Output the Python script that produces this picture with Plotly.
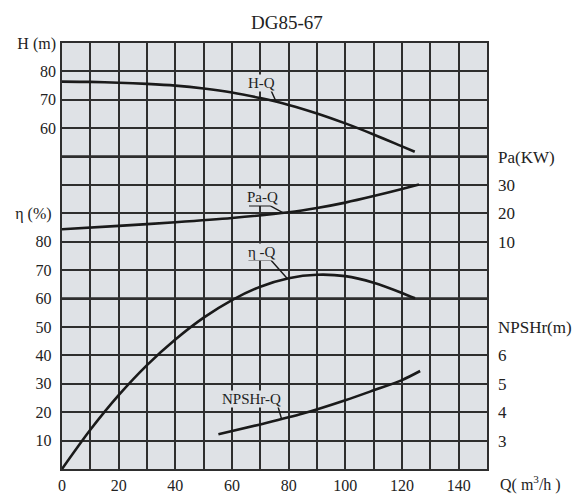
import numpy as np
import plotly.graph_objects as go

# ---------------- data ----------------
q_h = [0, 10, 20, 30, 40, 50, 60, 70, 80, 90, 100, 110, 120, 124.5]
head = [76.4, 76.3, 76.0, 75.6, 75.0, 74.0, 72.6, 70.6, 68.2, 65.2, 61.7, 57.8, 53.6, 51.7]

q_pa = [0, 20, 40, 60, 80, 90, 100, 110, 120, 126]
power = [14.4, 15.6, 16.9, 18.4, 20.4, 21.9, 23.8, 26.1, 28.6, 30.2]

q_eta = [0, 10, 20, 30, 40, 50, 60, 70, 80, 90, 100, 110, 120, 124.6]
eff = [0, 13.8, 26.0, 36.6, 45.6, 53.3, 59.5, 64.2, 67.2, 68.4, 67.9, 65.6, 62.0, 60.1]

q_npsh = [55.2, 70, 85, 100, 110, 120, 126.4]
npsh = [3.22, 3.57, 3.95, 4.42, 4.77, 5.13, 5.45]

x_ticks = [0, 20, 40, 60, 80, 100, 120, 140]
eta_ticks = [10, 20, 30, 40, 50, 60, 70, 80]
h_ticks = [60, 70, 80]
pa_ticks = [10, 20, 30]
npsh_ticks = [3, 4, 5, 6]

title = "DG85-67"

# ---------------- styling ----------------
FONT = "'Liberation Serif', 'Times New Roman', Times, serif"
TXT = "#222222"
BG = "#dfe2e6"
GRID = "#2e2e2e"
CURVE = "#1a1a1a"

fig = go.Figure()
for xs, ys, ya in ((q_h, head, "y2"), (q_pa, power, "y3"), (q_eta, eff, "y"), (q_npsh, npsh, "y4")):
    fig.add_trace(go.Scatter(x=xs, y=ys, yaxis=ya, mode="lines",
                             line=dict(color=CURVE, width=2.6, shape="spline", smoothing=0.8),
                             showlegend=False, hoverinfo="skip"))

grid_vals = list(range(0, 151, 10))
x_text = [str(v) if v in x_ticks else "" for v in grid_vals]
eta_text = [str(v) if v in eta_ticks else ("η (%)" if v == 90 else "") for v in grid_vals]

tickfont = dict(family=FONT, size=16, color=TXT)
tickfont_r = dict(family=FONT, size=17, color=TXT)

fig.update_layout(
    width=574, height=495,
    margin=dict(l=62, r=87, t=43, b=26, autoexpand=False),
    paper_bgcolor="white", plot_bgcolor=BG,
    xaxis=dict(range=[0, 150], tickmode="array", tickvals=grid_vals, ticktext=x_text,
               showgrid=True, gridcolor=GRID, gridwidth=1.6, zeroline=False,
               showline=True, linecolor=GRID, linewidth=2.4, mirror=True, automargin=False,
               ticks="", ticklabelstandoff=1, tickfont=tickfont, fixedrange=True),
    yaxis=dict(range=[0, 150], tickmode="array", tickvals=grid_vals, ticktext=eta_text,
               showgrid=True, gridcolor=GRID, gridwidth=1.6, zeroline=False,
               showline=True, linecolor=GRID, linewidth=2.4, mirror=True, automargin=False,
               ticks="", ticklabelstandoff=5, tickfont=tickfont, fixedrange=True),
    yaxis2=dict(range=[-60, 90], overlaying="y", side="left", anchor="x",
                tickmode="array", tickvals=h_ticks + [90],
                ticktext=[str(v) for v in h_ticks] + ["H (m)"], automargin=False,
                showgrid=False, zeroline=False, ticks="", ticklabelstandoff=5,
                tickfont=tickfont, fixedrange=True),
    yaxis3=dict(range=[-70, 80], overlaying="y", side="right", anchor="x",
                tickmode="array", tickvals=pa_ticks + [40],
                ticktext=[str(v) for v in pa_ticks] + ["Pa(KW)"], automargin=False,
                showgrid=False, zeroline=False, ticks="", ticklabelstandoff=10,
                tickfont=tickfont_r, fixedrange=True),
    yaxis4=dict(range=[2, 17], overlaying="y", side="right", anchor="x",
                tickmode="array", tickvals=npsh_ticks + [7],
                ticktext=[str(v) for v in npsh_ticks] + ["NPSHr(m)"], automargin=False,
                showgrid=False, zeroline=False, ticks="", ticklabelstandoff=10,
                tickfont=tickfont_r, fixedrange=True),
)

# thicker section dividers
for yv in (60, 110):
    fig.add_shape(type="line", xref="x domain", yref="y", x0=0, x1=1, y0=yv, y1=yv,
                  line=dict(color=GRID, width=2.8), layer="below")

# curve labels with underline + leader
labels = [
    # text, series x, series y, axis, text x, text y, underline x0, x1, underline y, attach x
    ("H-Q", q_h, head, "y2", 70.3, 75.9, 66.1, 73.7, 73.5, 75.6),
    ("Pa-Q", q_pa, power, "y3", 70.7, 25.7, 66.0, 73.4, 22.7, 78.1),
    ("η -Q", q_eta, eff, "y", 70.5, 76.5, 65.8, 73.7, 73.6, 79.5),
    ("NPSHr-Q", q_npsh, npsh, "y4", 67.0, 4.47, 62.8, 76.0, 4.28, 77.5),
]
for text, xs, ys, yref, tx, ty, u0, u1, uy, ax in labels:
    ay = float(np.interp(ax, xs, ys))
    fig.add_annotation(x=tx, y=ty, xref="x", yref=yref, text=text, showarrow=False,
                       font=dict(family=FONT, size=15, color=TXT), bgcolor=BG,
                       borderpad=0, xanchor="center", yanchor="middle")
    fig.add_shape(type="path", xref="x", yref=yref,
                  path=f"M {u0},{uy} L {u1},{uy} L {ax},{ay}",
                  line=dict(color=CURVE, width=1.4))

# title and Q axis label
fig.add_annotation(x=0.529, y=1.047, xref="paper", yref="paper", text=title,
                   showarrow=False, font=dict(family=FONT, size=19, color=TXT),
                   xanchor="center", yanchor="middle")
fig.add_annotation(x=1.026, y=-0.034, xref="paper", yref="paper",
                   text="Q( m<sup>3</sup>/h )", showarrow=False,
                   font=dict(family=FONT, size=16, color=TXT),
                   xanchor="left", yanchor="middle")

fig.write_html("out.html")
